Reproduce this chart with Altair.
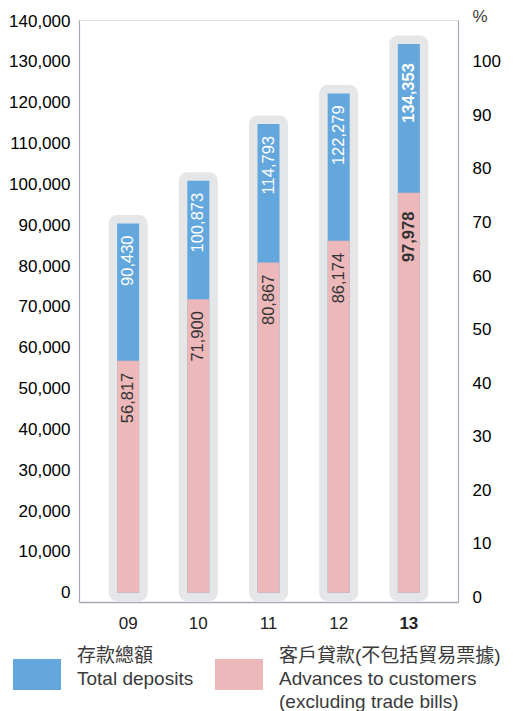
import altair as alt
import pandas as pd

# ---- data ----
years = ["09", "10", "11", "12", "13"]
total_deposits = [90430, 100873, 114793, 122279, 134353]
advances = [56817, 71900, 80867, 86174, 97978]
left_ticks = list(range(0, 140001, 10000))
pct_ticks = list(range(0, 101, 10))

dep_label = "存款總額|Total deposits|"
adv_label = "客戶貸款(不包括貿易票據)|Advances to customers|(excluding trade bills)"

BLUE = "#63a7dc"
PINK = "#ecb8ba"
GREY = "#e5e6e8"
TEXT = "#3a3a3a"
FRAME = "#a6aab6"
FONT = "Liberation Sans"

rows = []
for y, d in zip(years, total_deposits):
    rows.append({"year": y, "series": dep_label, "value": d, "txt": f"{d:,}"})
for y, a in zip(years, advances):
    rows.append({"year": y, "series": adv_label, "value": a, "txt": f"{a:,}"})
df = pd.DataFrame(rows)
pct_df = pd.DataFrame({"pct": pct_ticks})

x_enc = alt.X(
    "year:N",
    sort=years,
    scale=alt.Scale(paddingInner=0.4, paddingOuter=0.4),
    axis=alt.Axis(
        title=None, labelAngle=0, ticks=False, domain=True, domainColor=FRAME,
        domainWidth=1.5, labelPadding=13, labelFontSize=17,
        labelFontWeight={"expr": "datum.value == '13' ? 'bold' : 'normal'"},
        labelColor="#222222",
    ),
)
y_scale = alt.Scale(domain=[-2250, 140250], nice=False, zero=False)
y_axis = alt.Axis(
    values=left_ticks, labelExpr="format(datum.value, ',')", title=None,
    ticks=False, domain=True, domainColor=FRAME, domainWidth=1.2, grid=False,
    labelPadding=9, labelFontSize=17, orient="left",
)
y_enc = alt.Y("value:Q", stack=None, scale=y_scale, axis=y_axis)

base = alt.Chart(df)

grey = base.transform_filter(alt.datum.series == dep_label).mark_bar(
    size=22, color=GREY, stroke=GREY, strokeWidth=17, strokeJoin="round"
).encode(
    x=x_enc,
    y=y_enc,
    y2=alt.datum(0),
)

bars = base.mark_bar(size=22).encode(
    x=x_enc,
    y=y_enc,
    y2=alt.datum(0),
    color=alt.Color(
        "series:N",
        scale=alt.Scale(domain=[dep_label, adv_label], range=[BLUE, PINK]),
        legend=alt.Legend(
            orient="none", legendX=-66, legendY=612, direction="horizontal",
            title=None, padding=0,
            symbolType="M-1,0.125L1,0.125L1,1.417L-1,1.417Z",
            symbolSize=2304, symbolStrokeWidth=0, symbolOpacity=1,
            labelExpr="split(datum.label, '|')",
            labelFontSize=19, labelFont=FONT + ", Noto Sans CJK TC",
            labelColor=TEXT, labelOffset=16, columnPadding=21, labelLimit=400,
            labelBaseline="middle",
        ),
    ),
)


def label_layer(weight, cond, dx):
    return base.transform_filter(cond).mark_text(
        angle=270, align="right", baseline="middle", dx=dx, fontSize=16.5,
        font=FONT, fontWeight=weight,
    ).encode(
        x=x_enc,
        y=y_enc,
        text="txt:N",
        color=alt.condition(alt.datum.series == dep_label, alt.value("white"), alt.value("#333333")),
    )


labels_normal = label_layer("normal", alt.datum.year != "13", -12)
labels_bold = label_layer("bold", alt.datum.year == "13", -19)

main = alt.layer(grey, bars, labels_normal, labels_bold)

pct = alt.Chart(pct_df).mark_rule(opacity=0).encode(
    y=alt.Y(
        "pct:Q",
        scale=alt.Scale(domain=[-0.84, 107.8], nice=False, zero=False),
        axis=alt.Axis(
            orient="right", values=pct_ticks, title="%", titleAngle=0, titleX=14,
            titleY=-4, titleAlign="left", titleBaseline="middle", titleFontSize=17,
            titleFontWeight="normal", titleColor=TEXT, ticks=False, domain=True,
            domainColor=FRAME, domainWidth=1.2,
            grid=False, labelPadding=14, labelFontSize=17,
        ),
    )
)

chart = alt.layer(main, pct).resolve_scale(y="independent").properties(
    width=379, height=582,
    autosize=alt.AutoSizeParams(type="none"),
    padding={"left": 71, "top": 12, "right": 62, "bottom": 109},
).configure_view(
    stroke=FRAME, strokeWidth=1.2
).configure_axis(
    labelFont=FONT, labelColor=TEXT, titleFont=FONT
).configure(
    style={"guide-label": {"lineHeight": 23}}
)

chart.save("out.html", embed_options={"renderer": "svg", "actions": False})
